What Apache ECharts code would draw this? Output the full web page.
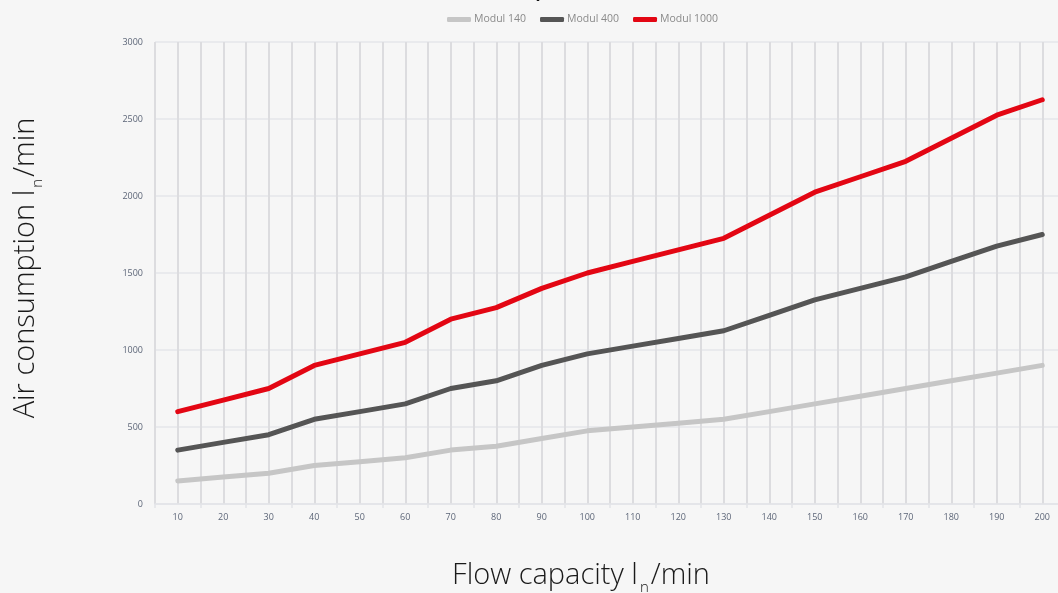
<!DOCTYPE html>
<html><head><meta charset="utf-8">
<script src="https://cdn.jsdelivr.net/npm/echarts@6/dist/echarts.min.js"></script>
<style>html,body{margin:0;padding:0;background:#f6f6f6;}#c{width:1058px;height:593px;}</style>
</head><body><div id="c"></div>
<script>
const categories = ['10','20','30','40','50','60','70','80','90','100','110','120','130','140','150','160','170','180','190','200'];
const modul140 = [150,175,200,250,275,300,350,375,425,475,500,525,550,600,650,700,750,800,850,900];
const modul400 = [350,400,450,550,600,650,750,800,900,975,1025,1075,1125,1225,1325,1400,1475,1575,1675,1750];
const modul1000 = [600,675,750,900,975,1050,1200,1275,1400,1500,1575,1650,1725,1875,2025,2125,2225,2375,2525,2625];
const seriesNames = ['Modul 140','Modul 400','Modul 1000'];
const colors = ['#c6c6c6','#555555','#e30613'];

const chart = echarts.init(document.getElementById('c'));
const mk = (name, data, color) => ({
  name, type: 'line', data, xAxisIndex: 0, yAxisIndex: 0,
  showSymbol: false, symbol: 'none',
  lineStyle: {width: 5, color, cap: 'round', join: 'round'},
  itemStyle: {color}, z: 5
});
const nameRich = {
  a: {fontSize: 29, fontWeight: 300, color: '#1a1a1a', fontFamily: 'Open Sans', lineHeight: 33},
  s: {fontSize: 15, fontWeight: 300, color: '#1a1a1a', fontFamily: 'Open Sans', lineHeight: 33, padding: [25, 2, 0, 2]}
};
chart.setOption({
  backgroundColor: '#f6f6f6',
  animation: false,
  title: {text: 'Air consumption', left: 503, textAlign: 'center', top: -22,
    textStyle: {fontSize: 18, fontWeight: 'bold', color: '#111', fontFamily: 'Liberation Sans'}},
  legend: {
    data: seriesNames, top: 14, left: 447, padding: 0, itemWidth: 24, itemHeight: 5, itemGap: 14,
    icon: 'roundRect',
    textStyle: {fontSize: 10.5, color: '#8a8a8a', fontFamily: 'Open Sans', padding: [0,0,0,-2]}
  },
  grid: {left: 155, right: -7, top: 42, bottom: 89, containLabel: false, outerBoundsMode: 'none'},
  xAxis: [{
    type: 'category', data: categories, boundaryGap: true,
    axisLine: {show: true, lineStyle: {color: '#e2e4e8', width: 1.5}},
    axisTick: {show: true, length: 4, lineStyle: {color: '#e2e4e8', width: 1.5}},
    axisLabel: {fontSize: 9, color: '#5d6678', margin: 9, fontFamily: 'Open Sans'},
    splitLine: {show: false},
    name: '{a|Flow capacity l}{s|n}{a|/min}', nameLocation: 'middle', nameGap: 55,
    nameTextStyle: {rich: nameRich, padding: [0, 58, 0, 0]}
  },{
    type: 'value', min: 0, max: 40, interval: 1, position: 'bottom',
    axisLine: {show: false}, axisTick: {show: false}, axisLabel: {show: false},
    splitLine: {show: true, lineStyle: {color: '#dcdcdf', width: 2}}
  }],
  yAxis: {
    type: 'value', min: 0, max: 3000, interval: 500,
    axisLine: {show: false}, axisTick: {show: false},
    axisLabel: {fontSize: 9, color: '#5d6678', margin: 12, fontFamily: 'Open Sans', formatter: v => String(v)},
    splitLine: {show: true, lineStyle: {color: '#e4e6ea', width: 1.5}},
    name: '{a|Air consumption l}{s|n}{a|/min}', nameLocation: 'middle', nameGap: 113, nameRotate: 90,
    nameTextStyle: {rich: nameRich, padding: [0, 0, 0, 10]}
  },
  series: [mk(seriesNames[0], modul140, colors[0]), mk(seriesNames[1], modul400, colors[1]), mk(seriesNames[2], modul1000, colors[2])]
});
</script></body></html>
